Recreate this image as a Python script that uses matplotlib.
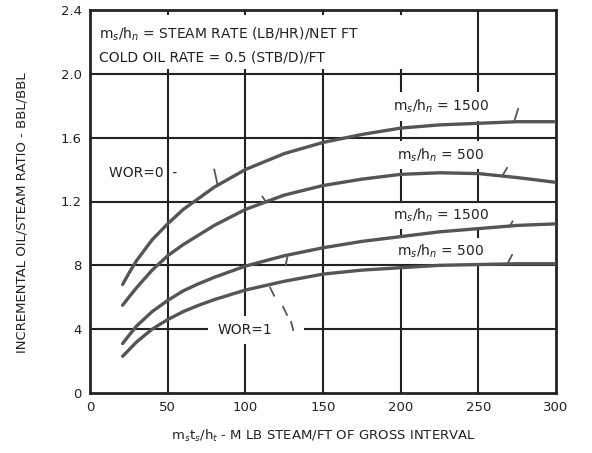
import matplotlib.pyplot as plt
from matplotlib.patches import Rectangle

# cumulative steam injected, M lb / ft of gross interval
steam = [21, 25, 30, 40, 50, 60, 70, 80, 100, 125, 150, 175, 200, 225, 250, 275, 300]

# incremental oil/steam ratio, bbl/bbl
wor0_rate1500 = [0.68, 0.75, 0.83, 0.96, 1.06, 1.15, 1.22, 1.29, 1.40, 1.50, 1.57, 1.62, 1.66, 1.68, 1.69, 1.70, 1.70]
wor0_rate500 = [0.55, 0.60, 0.66, 0.77, 0.86, 0.93, 0.99, 1.05, 1.15, 1.24, 1.30, 1.34, 1.37, 1.38, 1.375, 1.35, 1.32]
wor1_rate1500 = [0.31, 0.36, 0.42, 0.51, 0.58, 0.64, 0.685, 0.725, 0.795, 0.86, 0.91, 0.95, 0.98, 1.01, 1.03, 1.05, 1.06]
wor1_rate500 = [0.23, 0.27, 0.32, 0.40, 0.46, 0.51, 0.55, 0.585, 0.645, 0.70, 0.745, 0.77, 0.785, 0.80, 0.805, 0.81, 0.81]

xticks = [0, 50, 100, 150, 200, 250, 300]
yticks = [0, 0.4, 0.8, 1.2, 1.6, 2.0, 2.4]
ytick_labels = ["0", "4", "8", "1.2", "1.6", "2.0", "2.4"]

INK = "#222222"
CURVE = "#555555"

fig = plt.figure(figsize=(5.92, 4.53), dpi=100)
ax = fig.add_axes([90 / 592, 1 - 393 / 453, 466 / 592, 383 / 453])
ax.set_xlim(0, 300)
ax.set_ylim(0, 2.4)

for s in ax.spines.values():
    s.set_linewidth(2.0)
    s.set_color(INK)

ax.set_xticks(xticks)
ax.set_xticklabels([str(v) for v in xticks], fontsize=9.5, color=INK)
ax.set_yticks(yticks)
ax.set_yticklabels(ytick_labels, fontsize=9.5, color=INK)
ax.tick_params(length=0, pad=6)

# grid: verticals sit under the label boxes, horizontals stay on top of them
for x in xticks[1:-1]:
    ax.axvline(x, color=INK, lw=1.5, zorder=1)
for y in yticks[1:-1]:
    ax.axhline(y, color=INK, lw=1.5, zorder=3.5)

# note block in the top band
ax.add_patch(Rectangle((1, 2.03), 230, 0.34, facecolor="white", edgecolor="none", zorder=2))
ax.text(6, 2.25, "m$_s$/h$_n$ = STEAM RATE (LB/HR)/NET FT", fontsize=10, color=INK,
        va="center", zorder=3)
ax.text(6, 2.105, "COLD OIL RATE = 0.5 (STB/D)/FT", fontsize=10, color=INK,
        va="center", zorder=3)

# curves
for ys in (wor0_rate1500, wor0_rate500, wor1_rate1500, wor1_rate500):
    ax.plot(steam, ys, color=CURVE, lw=2.4, solid_capstyle="round",
            solid_joinstyle="round", zorder=5)

# curve labels
box = dict(facecolor="white", edgecolor="none", pad=4)
ax.text(226, 1.795, "m$_s$/h$_n$ = 1500", fontsize=10, color=INK, ha="center",
        va="center", bbox=box, zorder=3)
ax.text(226, 1.49, "m$_s$/h$_n$ = 500", fontsize=10, color=INK, ha="center",
        va="center", bbox=box, zorder=3)
ax.text(226, 1.115, "m$_s$/h$_n$ = 1500", fontsize=10, color=INK, ha="center",
        va="center", bbox=box, zorder=3)
ax.text(226, 0.885, "m$_s$/h$_n$ = 500", fontsize=10, color=INK, ha="center",
        va="center", bbox=box, zorder=3)

ax.text(34, 1.38, "WOR=0  -", fontsize=10, color=INK, ha="center", va="center", zorder=3)
ax.add_patch(Rectangle((76, 0.31), 62, 0.17, facecolor="white", edgecolor="none", zorder=4))
ax.text(100, 0.395, "WOR=1", fontsize=10, color=INK, ha="center", va="center", zorder=4.5)

# leader marks
leaders = [
    ((80, 82), (1.40, 1.31)),
    ((111, 113.5), (1.23, 1.195)),
    ((126, 127), (0.80, 0.85)),
    ((116, 118.5), (0.66, 0.61)),
    ((124.3, 126.8), (0.54, 0.49)),
    ((129.5, 130.8), (0.445, 0.395)),
    ((275.6, 273), (1.78, 1.70)),
    ((268.5, 266), (1.41, 1.37)),
    ((272, 270), (1.075, 1.04)),
    ((271.7, 269), (0.865, 0.815)),
]
for xs, ys in leaders:
    ax.plot(xs, ys, color=CURVE, lw=1.3, zorder=4.6)

ax.set_xlabel("m$_s$t$_s$/h$_t$ - M LB STEAM/FT OF GROSS INTERVAL", fontsize=9.5,
              color=INK, labelpad=10)
ax.set_ylabel("INCREMENTAL OIL/STEAM RATIO - BBL/BBL", fontsize=9.5, color=INK)
ax.yaxis.set_label_coords(-0.132, 0.47)

fig.savefig("out.png", dpi=100)
